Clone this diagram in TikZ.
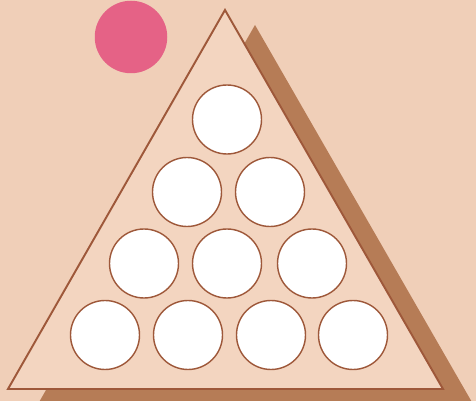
\documentclass[tikz,border=0pt]{standalone}
\usepackage{xcolor}
\usepackage{tikz}
\usetikzlibrary{positioning}
\definecolor{paper}{RGB}{240,207,184}
\definecolor{rackfill}{RGB}{243,213,192}
\definecolor{rackshadow}{RGB}{182,124,86}
\definecolor{rackline}{RGB}{158,88,58}
\definecolor{cueball}{RGB}{229,98,134}

\begin{document}
\begin{tikzpicture}[
  hole/.style={circle, draw=rackline, line width=0.8pt, fill=white,
    minimum size=1.38cm, inner sep=0pt},
  ball/.style={circle, fill=cueball, minimum size=1.45cm, inner sep=0pt},
  ]
  % Fond
  \fill[paper] (0,0) rectangle (9.52,8.02);
  \useasboundingbox (0,0) rectangle (9.52,8.02);

  % Ombre du triangle
  \begin{scope}
    \clip (0,0) rectangle (9.52,8.02);
    \fill[rackshadow] (5.10,7.52) -- (0.76,-0.06) -- (9.46,-0.06) -- cycle;
  \end{scope}

  % Triangle
  \draw[rackline, fill=rackfill, line width=1.1pt, line join=miter]
    (4.50,7.82) -- (0.16,0.24) -- (8.86,0.24) -- cycle;

  % Boule rose
  \node[ball] (boule) at (2.62,7.28) {};

  % Trous (rangée du haut)
  \node[hole] (t1) at (4.54,5.63) {};
  % Deuxième rangée
  \node[hole] (t2) at (3.74,4.18) {};
  \node[hole] (t3) at (5.40,4.18) {};
  % Troisième rangée
  \node[hole] (t4) at (2.88,2.75) {};
  \node[hole] (t5) at (4.54,2.75) {};
  \node[hole] (t6) at (6.24,2.75) {};
  % Rangée du bas
  \node[hole] (t7)  at (2.10,1.32) {};
  \node[hole] (t8)  at (3.76,1.32) {};
  \node[hole] (t9)  at (5.42,1.32) {};
  \node[hole] (t10) at (7.06,1.32) {};
\end{tikzpicture}
\end{document}
